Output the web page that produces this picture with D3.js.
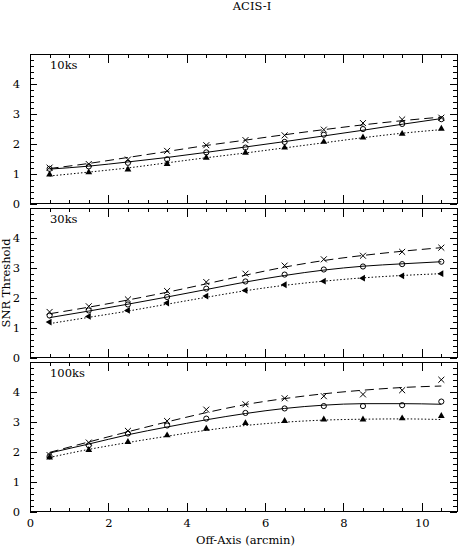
<!DOCTYPE html>
<html>
<head>
<meta charset="utf-8">
<script src="https://cdn.jsdelivr.net/npm/d3@7"></script>
<style>
  body { margin: 0; background: #fff; }
  svg { display: block; }
  text { font-family: "DejaVu Serif", serif; font-size: 11.5px; fill: #000; }
</style>
</head>
<body>
<svg id="chart"></svg>
<script>
// off-axis angle of each point (arcmin)
const offAxis = [0.5, 1.5, 2.5, 3.5, 4.5, 5.5, 6.5, 7.5, 8.5, 9.5, 10.5];
const panelLabels = ["10ks", "30ks", "100ks"];
const xTickLabels = [0, 2, 4, 6, 8, 10];
const yTickLabels = [0, 1, 2, 3, 4];

// 10ks measured points
const cross10  = [1.20, 1.32, 1.47, 1.76, 1.95, 2.12, 2.28, 2.47, 2.69, 2.81, 2.87];
const circle10 = [1.16, 1.24, 1.36, 1.48, 1.71, 1.87, 2.06, 2.30, 2.49, 2.66, 2.82];
const tri10    = [0.97, 1.04, 1.14, 1.32, 1.53, 1.70, 1.87, 2.06, 2.21, 2.33, 2.50];
// 10ks fitted curves
const dashed10 = [1.17, 1.34, 1.54, 1.74, 1.94, 2.12, 2.30, 2.47, 2.63, 2.77, 2.89];
const solid10  = [1.15, 1.25, 1.39, 1.54, 1.71, 1.89, 2.07, 2.26, 2.45, 2.65, 2.84];
const dotted10 = [0.92, 1.05, 1.19, 1.36, 1.53, 1.69, 1.86, 2.03, 2.20, 2.35, 2.47];

// 30ks
const cross30  = [1.53, 1.72, 1.95, 2.23, 2.53, 2.81, 3.08, 3.29, 3.41, 3.54, 3.68];
const circle30 = [1.41, 1.58, 1.78, 2.03, 2.31, 2.55, 2.78, 2.95, 3.05, 3.13, 3.21];
const tri30    = [1.19, 1.38, 1.58, 1.83, 2.06, 2.25, 2.44, 2.56, 2.66, 2.74, 2.81];
const dashed30 = [1.47, 1.69, 1.93, 2.19, 2.47, 2.76, 3.03, 3.25, 3.42, 3.56, 3.68];
const solid30  = [1.34, 1.56, 1.79, 2.03, 2.28, 2.53, 2.75, 2.93, 3.06, 3.14, 3.21];
const dotted30 = [1.14, 1.35, 1.56, 1.79, 2.02, 2.24, 2.42, 2.56, 2.67, 2.75, 2.81];

// 100ks
const cross100  = [1.90, 2.32, 2.71, 3.04, 3.42, 3.60, 3.80, 3.87, 3.93, 4.07, 4.42];
const circle100 = [1.86, 2.23, 2.62, 2.89, 3.12, 3.31, 3.46, 3.54, 3.54, 3.57, 3.69];
const tri100    = [1.82, 2.07, 2.34, 2.56, 2.78, 2.97, 3.04, 3.09, 3.09, 3.13, 3.21];
const dashed100 = [1.99, 2.34, 2.68, 3.01, 3.32, 3.59, 3.79, 3.95, 4.07, 4.16, 4.21];
const solid100  = [1.97, 2.27, 2.58, 2.84, 3.08, 3.29, 3.46, 3.57, 3.62, 3.62, 3.60];
const dotted100 = [1.82, 2.09, 2.32, 2.53, 2.73, 2.89, 3.00, 3.07, 3.10, 3.11, 3.09];

const panels = [
  { label: panelLabels[0], cross: cross10, circle: circle10, tri: tri10,
    dashed: dashed10, solid: solid10, dotted: dotted10, triRot: 0 },
  { label: panelLabels[1], cross: cross30, circle: circle30, tri: tri30,
    dashed: dashed30, solid: solid30, dotted: dotted30, triRot: -90 },
  { label: panelLabels[2], cross: cross100, circle: circle100, tri: tri100,
    dashed: dashed100, solid: solid100, dotted: dotted100, triRot: 0 }
];

const width = 461, height = 547;
const left = 30, right = 457;
const firstTop = 54, panelH = 149.5, pitch = 154.2;

const svg = d3.select('#chart')
  .attr('width', width)
  .attr('height', height);

const x = d3.scaleLinear().domain([0, 10.9]).range([left, right]);

svg.append('text')
  .attr('x', 252).attr('y', 10)
  .attr('text-anchor', 'middle')
  .text('ACIS-I');

panels.forEach((p, i) => {
  const top = firstTop + i * pitch;
  const bottom = top + panelH;
  const y = d3.scaleLinear().domain([0, 5]).range([bottom, top]);
  const g = svg.append('g');

  // ticks on all four sides, pointing inward
  const addAxis = (axis, tx, ty, labels) => {
    const a = g.append('g')
      .attr('transform', `translate(${tx},${ty})`)
      .call(axis);
    a.select('.domain').remove();
    a.selectAll('line').attr('stroke', '#000').attr('shape-rendering', 'crispEdges');
    if (!labels) a.selectAll('text').remove();
    else a.selectAll('text').attr('font-size', null).attr('font-family', null);
    return a;
  };

  const xMinor = d3.range(0, 10.9, 0.5);
  const xMajor = d3.range(0, 10.9, 2);
  const yMinor = d3.range(0, 5.01, 0.2);

  addAxis(d3.axisBottom(x).tickValues(xMinor).tickSize(-4), 0, bottom, false);
  addAxis(d3.axisTop(x).tickValues(xMinor).tickSize(-4), 0, top, false);
  addAxis(d3.axisTop(x).tickValues(xMajor).tickSize(-9), 0, top, false);
  addAxis(d3.axisBottom(x).tickValues(i === 2 ? xTickLabels : xMajor)
    .tickSize(-9).tickPadding(7).tickFormat(d3.format('d')), 0, bottom, i === 2);

  addAxis(d3.axisLeft(y).tickValues(yMinor).tickSize(-4), left, 0, false);
  addAxis(d3.axisRight(y).tickValues(yMinor).tickSize(-4), right, 0, false);
  addAxis(d3.axisRight(y).tickValues(yTickLabels.concat([5])).tickSize(-7), right, 0, false);
  addAxis(d3.axisLeft(y).tickValues(yTickLabels).tickSize(-7).tickPadding(10)
    .tickFormat(d3.format('d')), left, 0, true);

  g.append('rect')
    .attr('x', left).attr('y', top)
    .attr('width', right - left).attr('height', panelH)
    .attr('fill', 'none').attr('stroke', '#000')
    .attr('shape-rendering', 'crispEdges');

  g.append('text')
    .attr('x', 50).attr('y', top + 14.5)
    .text(p.label);

  const line = d3.line()
    .x((d, k) => x(offAxis[k]))
    .y(d => y(d))
    .curve(d3.curveMonotoneX);

  [[p.dashed, '9,5'], [p.solid, null], [p.dotted, '1.5,2']].forEach(([vals, dash]) => {
    g.append('path')
      .attr('d', line(vals))
      .attr('fill', 'none')
      .attr('stroke', '#000')
      .attr('stroke-width', 1)
      .attr('stroke-dasharray', dash);
  });

  const times = d3.symbol().type(d3.symbolTimes).size(25);
  const circ = d3.symbol().type(d3.symbolCircle).size(21);
  const tri = d3.symbol().type(d3.symbolTriangle).size(20);

  g.selectAll('.cross').data(p.cross).enter().append('path')
    .attr('class', 'cross')
    .attr('transform', (d, k) => `translate(${x(offAxis[k])},${y(d)})`)
    .attr('d', times)
    .attr('fill', 'none').attr('stroke', '#000').attr('stroke-width', 1);

  g.selectAll('.circ').data(p.circle).enter().append('path')
    .attr('class', 'circ')
    .attr('transform', (d, k) => `translate(${x(offAxis[k])},${y(d)})`)
    .attr('d', circ)
    .attr('fill', 'none').attr('stroke', '#000').attr('stroke-width', 1);

  g.selectAll('.tri').data(p.tri).enter().append('path')
    .attr('class', 'tri')
    .attr('transform', (d, k) => `translate(${x(offAxis[k])},${y(d)}) rotate(${p.triRot})`)
    .attr('d', tri)
    .attr('fill', '#000');
});

svg.append('text')
  .attr('x', (left + right) / 2 + 2).attr('y', 544)
  .attr('text-anchor', 'middle')
  .text('Off-Axis (arcmin)');

svg.append('text')
  .attr('transform', `translate(10,${firstTop + pitch + panelH / 2}) rotate(-90)`)
  .attr('text-anchor', 'middle')
  .text('SNR Threshold');
</script>
</body>
</html>
